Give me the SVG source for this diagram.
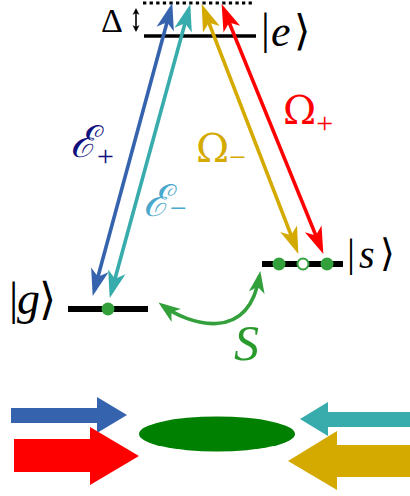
<svg xmlns="http://www.w3.org/2000/svg" width="410" height="496" viewBox="0 0 410 496">
<style>
.lvl{stroke:#000;fill:none}
.tr{fill:none;stroke-width:3.6}
.math{font-family:"Liberation Serif","DejaVu Serif",serif}
.gr{font-family:"DejaVu Serif","Liberation Serif",serif}
.it{font-style:italic}
.br{font-family:"DejaVu Sans","DejaVu Serif",sans-serif;font-weight:200}
.dot{fill:#33a03c}
</style>
<defs>
<marker id="hB" markerUnits="userSpaceOnUse" orient="auto-start-reverse" refX="21" refY="0" markerWidth="30" markerHeight="20" overflow="visible"><path d="M27,0 L0,-9 L7,0 L0,9 Z" fill="#3563ad"/></marker>
<marker id="hT" markerUnits="userSpaceOnUse" orient="auto-start-reverse" refX="21" refY="0" markerWidth="30" markerHeight="20" overflow="visible"><path d="M27,0 L0,-9 L7,0 L0,9 Z" fill="#38acac"/></marker>
<marker id="hY" markerUnits="userSpaceOnUse" orient="auto-start-reverse" refX="21" refY="0" markerWidth="30" markerHeight="20" overflow="visible"><path d="M27,0 L0,-9 L7,0 L0,9 Z" fill="#d4aa00"/></marker>
<marker id="hR" markerUnits="userSpaceOnUse" orient="auto-start-reverse" refX="21" refY="0" markerWidth="30" markerHeight="20" overflow="visible"><path d="M27,0 L0,-9 L7,0 L0,9 Z" fill="#ff0000"/></marker>
<marker id="hG" markerUnits="userSpaceOnUse" orient="auto-start-reverse" refX="17" refY="0" markerWidth="30" markerHeight="20" overflow="visible"><path d="M22,0 L0,-8 L6,0 L0,8 Z" fill="#33a03c"/></marker>
<marker id="hK" markerUnits="userSpaceOnUse" orient="auto-start-reverse" refX="5" refY="0" markerWidth="10" markerHeight="10" overflow="visible"><path d="M7,0 L0,-3.5 L2,0 L0,3.5 Z" fill="#000"/></marker>
</defs>

<g id="levels">
<line x1="143" y1="3" x2="253" y2="3" stroke="#000" stroke-width="3" stroke-dasharray="3.3,3.3"/>
<line class="lvl" x1="144" y1="36" x2="256" y2="36" stroke-width="3.5"/>
</g>

<g id="delta">
<text class="math" x="101" y="32" font-size="34">Δ</text>
<line x1="136" y1="10" x2="136" y2="30" stroke="#000" stroke-width="1.6" marker-start="url(#hK)" marker-end="url(#hK)"/>
</g>

<g id="state-e">
<text class="math" x="261" y="44" font-size="44">|</text>
<text class="math it" x="271" y="46" font-size="44">e</text>
<text class="br" x="294" y="45" font-size="42">⟩</text>
</g>

<g id="state-g">
<line class="lvl" x1="68" y1="309" x2="148" y2="309" stroke-width="6"/>
<circle class="dot" cx="108" cy="309" r="6.5"/>
<text class="math" x="9" y="314" font-size="46">|</text>
<text class="math it" x="17" y="314" font-size="46">g</text>
<text class="br" x="39" y="314" font-size="44">⟩</text>
</g>

<g id="state-s">
<line class="lvl" x1="262" y1="264" x2="343" y2="264" stroke-width="6"/>
<circle class="dot" cx="279" cy="264" r="6.5"/>
<circle cx="303" cy="264" r="5.5" fill="#fff" stroke="#33a03c" stroke-width="2"/>
<circle class="dot" cx="327" cy="264" r="6.5"/>
<text class="math" x="347" y="266" font-size="40">|</text>
<text class="math it" x="359" y="268" font-size="40">s</text>
<text class="br" x="380" y="266" font-size="38">⟩</text>
</g>

<g id="connectors">
<line class="tr" stroke="#3563ad" x1="170.7" y1="8.8" x2="94.3" y2="290.2" marker-start="url(#hB)" marker-end="url(#hB)"/>
<line class="tr" stroke="#38acac" x1="188.7" y1="9.8" x2="111.3" y2="292.2" marker-start="url(#hT)" marker-end="url(#hT)"/>
<line class="tr" stroke="#d4aa00" x1="203.8" y1="9.7" x2="296.2" y2="248.3" marker-start="url(#hY)" marker-end="url(#hY)"/>
<line class="tr" stroke="#ff0000" x1="223.9" y1="9.6" x2="321.1" y2="248.4" marker-start="url(#hR)" marker-end="url(#hR)"/>
<path class="tr" stroke="#33a03c" stroke-width="4" d="M162.5,305.5 C188,324 248,345 259.5,276" marker-start="url(#hG)" marker-end="url(#hG)"/>
</g>

<g id="labels">
<text class="gr it" x="70" y="157" font-size="44" fill="#10107e">ℰ<tspan class="math" font-style="normal" font-size="30" dy="9">+</tspan></text>
<text class="gr it" x="143" y="216" font-size="44" fill="#4aa8cc">ℰ<tspan class="math" font-style="normal" font-size="30" dy="2">−</tspan></text>
<text class="gr" x="196" y="162" font-size="40" fill="#d4aa00">Ω<tspan class="math" font-size="30" dy="5">−</tspan></text>
<text class="gr" x="283" y="124" font-size="40" fill="#ff0000">Ω<tspan class="math" font-size="30" dy="9">+</tspan></text>
<text class="math it" x="234" y="360" font-size="50" fill="#279a2b">S</text>
</g>

<g id="beams">
<path d="M11,408 H97 V397 L127,415 L97,433 V423 H11 Z" fill="#3563ad"/>
<path d="M14,439 H90 V427 L139,456 L90,485 V472 H14 Z" fill="#ff0000"/>
<path d="M410,412 H328 V402 L300,419 L328,436 V427 H410 Z" fill="#38acac"/>
<path d="M410,445 H337 V431 L288,461 L337,490 V477 H410 Z" fill="#d4aa00"/>
<ellipse cx="217" cy="434" rx="78" ry="17.5" fill="#008000"/>
</g>
</svg>
